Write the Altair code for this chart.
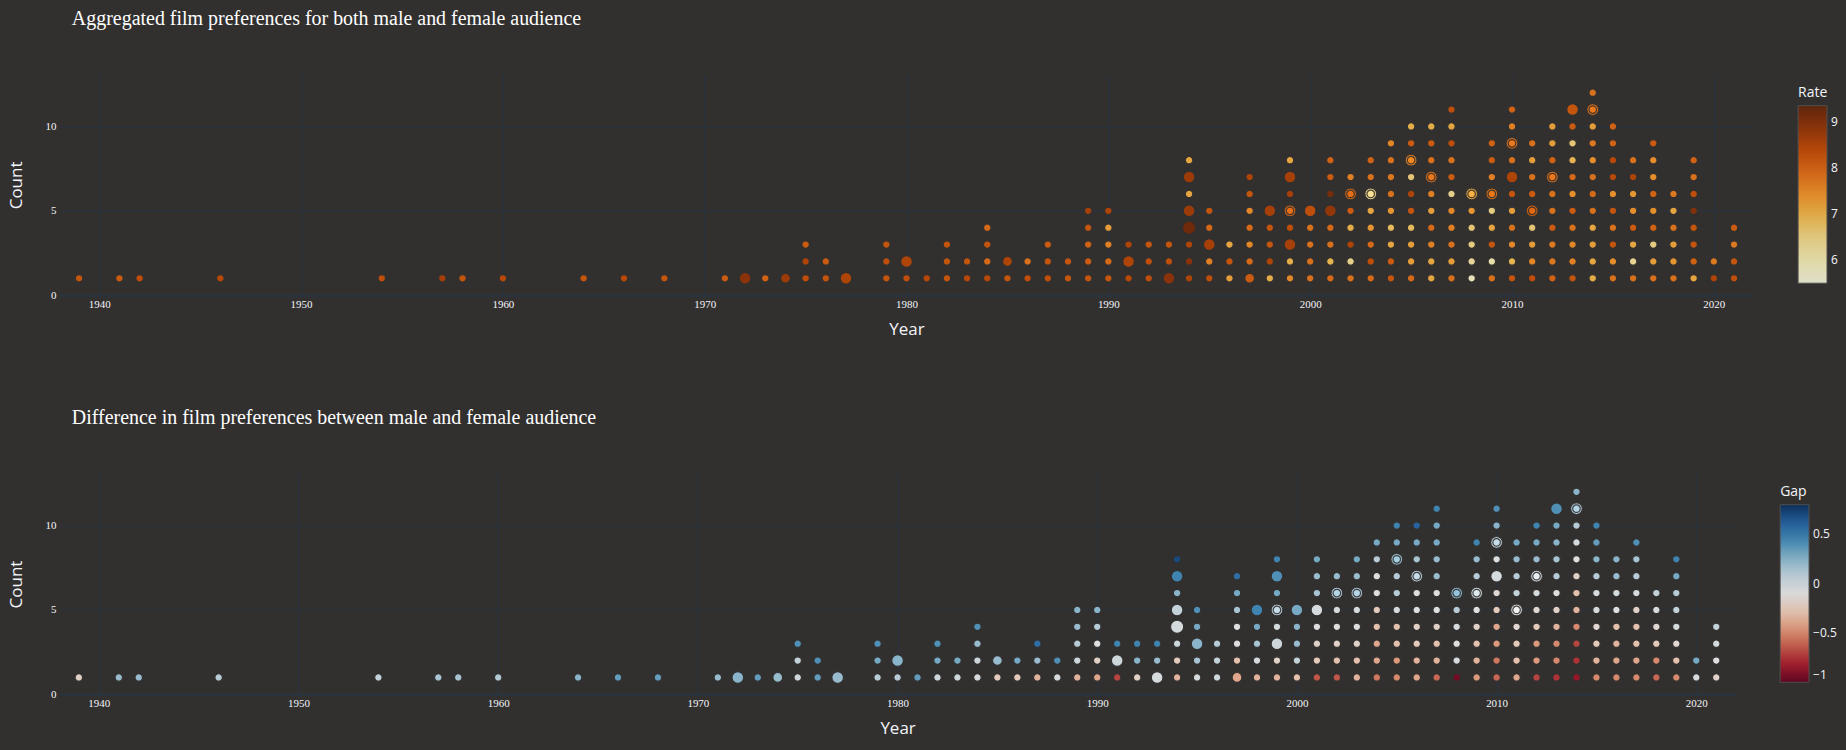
import altair as alt
import numpy as np
import pandas as pd

# ---------------- data ----------------
years = [1939, 1941, 1942, 1946, 1954, 1957, 1958, 1960, 1964, 1966, 1968,
         1971, 1972, 1973, 1974, 1975, 1976, 1977, 1979, 1980, 1981, 1982,
         1983, 1984, 1985, 1986, 1987, 1988, 1989, 1990, 1991, 1992, 1993,
         1994, 1995, 1996, 1997, 1998, 1999, 2000, 2001, 2002, 2003, 2004,
         2005, 2006, 2007, 2008, 2009, 2010, 2011, 2012, 2013, 2014, 2015,
         2016, 2017, 2018, 2019, 2020, 2021]

# aggregated rate of every film, per year, bottom (Count=1) to top
rate = [
    [8.2], [8.1], [8.3], [8.4], [8.3], [8.6], [8.2], [8.4], [8.2], [8.4], [8.2],
    [8.1], [8.9], [8.0], [8.7],
    [8.3, 8.5, 8.1],                 # 1975
    [8.2, 8.1],                      # 1976
    [8.5],                           # 1977
    [8.2, 8.3, 8.2],                 # 1979
    [8.3, 8.5],                      # 1980
    [8.4],                           # 1981
    [8.2, 8.2, 8.2],                 # 1982
    [8.4, 8.2],                      # 1983
    [8.4, 7.9, 8.2, 7.9],            # 1984
    [8.2, 8.5],                      # 1985
    [8.3, 7.8],                      # 1986
    [8.3, 8.2, 8.1],                 # 1987
    [8.2, 8.2],                      # 1988
    [8.2, 8.1, 8.0, 8.2, 8.6],       # 1989
    [8.2, 7.9, 7.6, 7.2, 8.5],       # 1990
    [8.4, 8.5, 8.5],                 # 1991
    [8.3, 8.3, 8.2],                 # 1992
    [8.9, 8.3, 8.2],                 # 1993
    [8.5, 8.9, 8.5, 9.2, 8.7, 7.1, 8.7, 7.1],             # 1994
    [8.3, 7.6, 8.6, 7.9, 8.2],                            # 1995
    [7.2, 8.2, 7.1],                                      # 1996
    [8.1, 7.9, 7.5, 7.9, 7.5, 8.2, 8.5],                  # 1997
    [7.0, 8.5, 8.2, 8.2, 8.6],                            # 1998
    [7.5, 7.0, 8.6, 8.3, 7.9, 8.6, 8.6, 7.1],             # 1999
    [7.8, 7.8, 7.8, 7.8, 8.3],                            # 2000
    [7.9, 6.9, 7.8, 7.9, 8.8, 9.1, 8.1, 8.0],             # 2001
    [7.8, 6.4, 8.5, 7.0, 8.1, 7.9, 7.6],                  # 2002
    [7.9, 8.3, 7.9, 7.3, 7.1, 6.4, 7.8, 8.0],             # 2003
    [8.2, 8.1, 7.1, 6.8, 7.3, 7.8, 7.7, 7.8, 7.5],        # 2004
    [7.9, 7.2, 7.2, 6.8, 8.2, 8.5, 6.6, 7.6, 8.1, 7.0],   # 2005
    [7.1, 7.1, 7.6, 7.9, 7.2, 7.6, 7.8, 7.8, 8.1, 7.0],   # 2006
    [7.8, 7.2, 7.8, 7.6, 7.5, 6.4, 8.1, 7.8, 8.3, 7.1, 8.3],        # 2007
    [5.8, 6.2, 6.5, 6.6, 7.3, 7.1],                                 # 2008
    [7.8, 6.0, 8.2, 7.1, 6.5, 7.8, 7.6, 8.1, 8.0],                  # 2009
    [8.2, 6.9, 7.5, 7.8, 7.2, 8.2, 8.5, 7.8, 7.8, 7.6, 8.0],        # 2010
    [8.3, 7.5, 7.2, 6.6, 8.0, 8.1, 7.8, 7.2, 7.8],                  # 2011
    [8.0, 7.7, 7.7, 8.1, 7.8, 7.8, 7.8, 8.0, 7.2, 7.2],             # 2012
    [8.2, 7.6, 7.5, 7.8, 8.1, 7.4, 7.9, 6.9, 6.6, 8.1, 8.2],        # 2013
    [7.0, 7.1, 7.2, 7.1, 7.8, 7.9, 7.8, 7.4, 7.7, 7.2, 7.8, 7.8],   # 2014
    [7.8, 7.4, 8.2, 7.8, 8.2, 7.4, 8.4, 8.4, 8.0, 8.0],             # 2015
    [7.8, 6.3, 7.1, 8.1, 7.4, 7.3, 8.5, 7.8],                       # 2016
    [7.8, 7.2, 6.5, 8.0, 7.4, 8.0, 7.4, 7.4, 8.1],                  # 2017
    [7.8, 7.3, 7.2, 7.8, 7.1, 7.7],                                 # 2018
    [7.1, 8.0, 8.2, 8.2, 9.0, 8.3, 7.8, 8.0],                       # 2019
    [8.5, 7.7],                                                     # 2020
    [8.3, 8.2, 7.7, 8.1],                                           # 2021
]

# male minus female rating gap, same films in the same order
gap = [
    [-0.2], [0.2], [0.2], [0.1], [0.05], [0.15], [0.15], [0.12], [0.25], [0.35], [0.35],
    [0.2], [0.25], [0.35], [0.2],
    [0.0, 0.05, 0.4],                # 1975
    [0.35, 0.4],                     # 1976
    [0.2],                           # 1977
    [0.1, 0.3, 0.4],                 # 1979
    [0.1, 0.25],                     # 1980
    [0.35],                          # 1981
    [0.0, 0.3, 0.4],                 # 1982
    [0.0, 0.3],                      # 1983
    [-0.05, 0.0, 0.2, 0.4],          # 1984
    [-0.25, 0.2],                    # 1985
    [-0.25, 0.3],                    # 1986
    [-0.35, 0.2, 0.55],              # 1987
    [-0.05, 0.4],                    # 1988
    [-0.35, 0.0, 0.1, 0.2, 0.25],    # 1989
    [-0.4, -0.2, -0.1, 0.1, 0.25],   # 1990
    [-0.7, 0.0, 0.45],               # 1991
    [-0.2, 0.25, 0.45],              # 1992
    [-0.05, 0.2, 0.45],              # 1993
    [-0.35, -0.25, 0.0, -0.05, 0.05, 0.25, 0.45, 0.7],          # 1994
    [-0.05, 0.15, 0.25, 0.3, 0.4],                              # 1995
    [0.0, 0.05, 0.1],                                           # 1996
    [-0.4, -0.3, -0.1, -0.1, 0.15, 0.3, 0.55],                  # 1997
    [-0.35, -0.05, 0.15, 0.3, 0.45],                            # 1998
    [-0.35, -0.2, 0.0, -0.05, 0.1, 0.3, 0.4, 0.45],             # 1999
    [-0.3, 0.05, 0.2, 0.25, 0.3],                               # 2000
    [-0.65, -0.25, -0.2, -0.1, -0.05, 0.15, 0.2, 0.3],          # 2001
    [-0.65, -0.3, -0.2, -0.1, -0.05, 0.15, 0.2],                # 2002
    [-0.35, -0.3, -0.2, -0.1, -0.05, 0.15, 0.2, 0.3],           # 2003
    [-0.55, -0.4, -0.4, -0.3, -0.25, -0.1, -0.1, 0.1, 0.3],     # 2004
    [-0.5, -0.45, -0.3, -0.3, -0.05, 0.1, 0.1, 0.2, 0.3, 0.45], # 2005
    [-0.4, -0.35, -0.25, -0.2, -0.1, -0.1, 0.1, 0.15, 0.3, 0.6],          # 2006
    [-0.6, -0.35, -0.3, -0.2, -0.1, -0.1, 0.2, 0.2, 0.3, 0.3, 0.45],      # 2007
    [-0.95, -0.05, -0.1, -0.05, 0.1, 0.25],                               # 2008
    [-0.45, -0.35, -0.3, -0.2, -0.1, 0.0, 0.1, 0.2, 0.45],                # 2009
    [-0.6, -0.55, -0.45, -0.4, -0.25, -0.15, -0.05, -0.1, 0.1, 0.25, 0.4],# 2010
    [-0.4, -0.3, -0.25, -0.15, -0.1, 0.05, 0.1, 0.2, 0.3],                # 2011
    [-0.7, -0.45, -0.45, -0.25, -0.15, -0.05, -0.05, 0.2, 0.3, 0.45],     # 2012
    [-0.75, -0.5, -0.5, -0.35, -0.2, -0.1, 0.1, 0.15, 0.25, 0.3, 0.4],    # 2013
    [-0.85, -0.75, -0.7, -0.5, -0.35, -0.3, -0.2, -0.1, -0.05, 0.1, 0.15, 0.25],  # 2014
    [-0.5, -0.35, -0.25, -0.15, -0.05, -0.05, 0.1, 0.25, 0.35, 0.45],     # 2015
    [-0.5, -0.4, -0.35, -0.3, -0.1, -0.05, 0.2, 0.25],                    # 2016
    [-0.5, -0.4, -0.3, -0.3, -0.2, -0.05, 0.1, 0.15, 0.4],                # 2017
    [-0.6, -0.5, -0.25, -0.15, -0.05, 0.05],                              # 2018
    [-0.5, -0.3, -0.15, -0.05, 0.05, 0.1, 0.3, 0.45],                     # 2019
    [-0.05, 0.3],                                                         # 2020
    [-0.2, -0.1, -0.05, 0.05],                                            # 2021
]

# films with a larger audience (popularity level; all others are level 1)
popular_year = [1972, 1974, 1977, 1980, 1985, 1991, 1993, 1994, 1994, 1994,
                1995, 1997, 1998, 1999, 1999, 2000, 2001, 2010, 2013]
popular_count = [1, 1, 1, 2, 2, 2, 1, 4, 5, 7, 3, 1, 5, 3, 7, 5, 5, 7, 11]
popular_level = [3, 2, 3, 3, 2, 3, 3, 4, 3, 3, 3, 2, 3, 3, 3, 3, 3, 3, 3]

# films that appear twice in the list (drawn as a halo behind the dot)
dup_year = [1999, 2002, 2003, 2005, 2006, 2008, 2009, 2010, 2011, 2012, 2014]
dup_count = [5, 6, 6, 8, 7, 6, 6, 9, 5, 7, 11]

x_ticks = [1940, 1950, 1960, 1970, 1980, 1990, 2000, 2010, 2020]
y_ticks = [0, 5, 10]
rate_ticks = [6, 7, 8, 9]
gap_ticks = [-1, -0.5, 0, 0.5]

# colour scales (YlOrBr and RdBu, as in the reference colour bars)
ylorbr = ["#ffffe5", "#fff7bc", "#fee391", "#fec44f", "#fe9929",
          "#ec7014", "#cc4c02", "#993404", "#662506"]
rdbu = ["#67001f", "#b2182b", "#d6604d", "#f4a582", "#fddbc7", "#f7f7f7",
        "#d1e5f0", "#92c5de", "#4393c3", "#2166ac", "#053061"]
rate_range = [5.5, 9.36]
gap_range = [-1.0, 0.8]

# ---------------- tables ----------------
pop = {(y, c): l for y, c, l in zip(popular_year, popular_count, popular_level)}
rows = []
for y, rs, gs in zip(years, rate, gap):
    assert len(rs) == len(gs)
    for i, (r, g) in enumerate(zip(rs, gs)):
        rows.append({"Year": y, "Count": i + 1, "Rate": r, "Gap": g,
                     "Popularity": pop.get((y, i + 1), 1)})
df = pd.DataFrame(rows)
dup = df.set_index(["Year", "Count"]).loc[list(zip(dup_year, dup_count))].reset_index()
dup["Popularity"] = 3

# ---------------- style ----------------
BG = "#32302f"
GRID = "#283442"
TXT = "#f2f5fa"
SERIF = "Liberation Serif"
SANS = "Open Sans"

# dark page around the chart (the reference has no white margin)
try:
    import altair.utils.html as _h
    _orig = _h.TEMPLATES["standard"]

    class _DarkPage:
        def render(self, **kw):
            out = _orig.render(**kw)
            return out.replace("<style>", "<style>\n    html, body { background: %s; }" % BG, 1)

    _h.TEMPLATES["standard"] = _DarkPage()
except Exception:
    pass

x_axis = alt.Axis(values=x_ticks, format="d", grid=True, gridColor=GRID, gridWidth=1,
                  domain=True, domainColor=GRID, domainWidth=2, ticks=False,
                  labelFont=SERIF, labelFontSize=11, labelColor=TXT, labelPadding=3,
                  title="Year", titleFont=SANS, titleFontSize=17, titleFontWeight="normal",
                  titleColor=TXT, titlePadding=12)
y_axis = alt.Axis(values=y_ticks, grid=True, gridColor=GRID, gridWidth=1, domain=False,
                  ticks=False, labelFont=SERIF, labelFontSize=11, labelColor=TXT,
                  labelPadding=4, title="Count", titleFont=SANS, titleFontSize=17,
                  titleFontWeight="normal", titleColor=TXT, titlePadding=19)


def legend(title, values, lx):
    return alt.Legend(title=title, orient="none", legendX=lx, legendY=11,
                      direction="vertical", gradientLength=178, gradientThickness=29,
                      values=values, format="~g", titleFont=SANS, titleFontSize=14,
                      titleFontWeight="normal", titleColor=TXT, titlePadding=6,
                      labelFont=SANS, labelFontSize=12, labelColor=TXT, labelOffset=4,
                      gradientStrokeColor="#555555", gradientStrokeWidth=1)


def panel(field, colors, rng, leg, width, title):
    stops = list(np.linspace(rng[0], rng[1], len(colors)))
    enc = dict(
        x=alt.X("Year:Q", scale=alt.Scale(domain=[1938.05, 2021.95], nice=False, zero=False),
                axis=x_axis),
        y=alt.Y("Count:Q", scale=alt.Scale(domain=[0, 13.07], nice=False), axis=y_axis),
        color=alt.Color(f"{field}:Q", scale=alt.Scale(domain=stops, range=colors,
                                                     interpolate="rgb"),
                        legend=leg),
        size=alt.Size("Popularity:Q", scale=alt.Scale(domain=[1, 4], range=[57, 177]),
                      legend=None),
    )
    halo = alt.Chart(dup).mark_circle(opacity=0.85, stroke=BG, strokeWidth=1).encode(**enc)
    dots = alt.Chart(df).mark_circle(opacity=0.88, stroke=BG, strokeWidth=1.2).encode(**enc)
    return alt.layer(halo, dots).properties(
        width=width, height=221,
        title=alt.Title(title, anchor="start", frame="group", dx=12, offset=46,
                        font=SERIF, fontSize=20, fontWeight="normal", color="#ffffff"),
    )


top = panel("Rate", ylorbr, rate_range, legend("Rate", rate_ticks, 1742),
            1697, "Aggregated film preferences for both male and female audience")
bottom = panel("Gap", rdbu, gap_range, legend("Gap", gap_ticks, 1724),
               1679, "Difference in film preferences between male and female audience")

chart = alt.vconcat(top, bottom, spacing=71).resolve_scale(color="independent").configure(
    background=BG, padding=0,
).configure_view(stroke=None)

chart.save("out.html", embed_options={"renderer": "svg", "actions": False})
